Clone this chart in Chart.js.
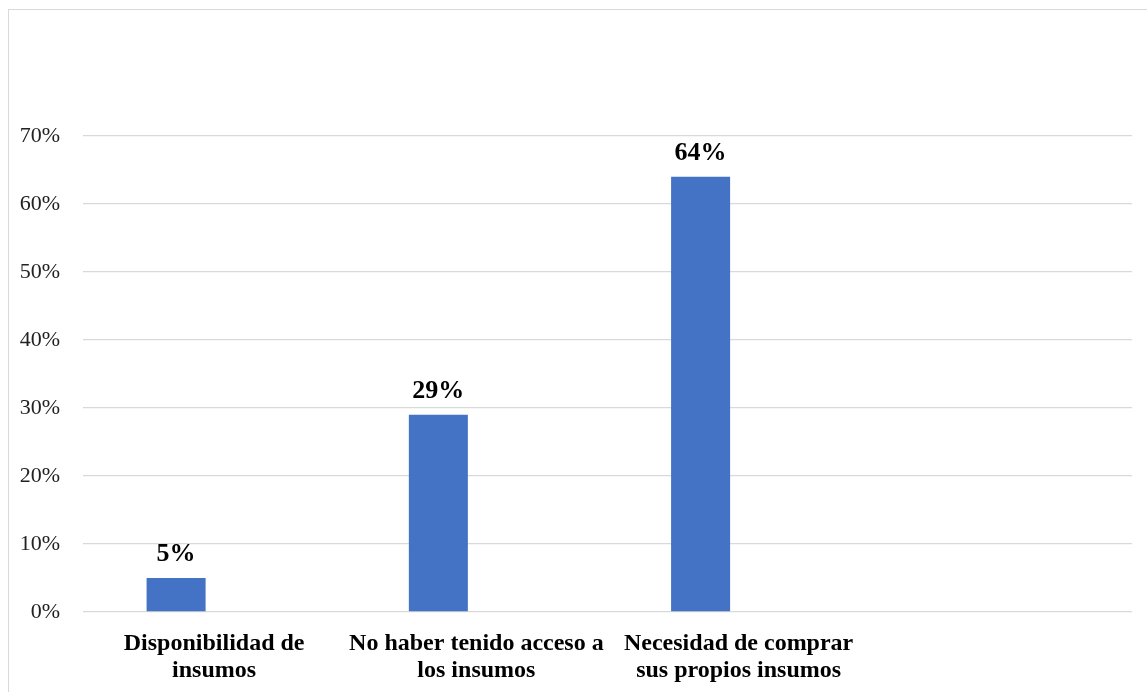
<!DOCTYPE html>
<html lang="es">
<head>
<meta charset="UTF-8">
<title>Insumos</title>
<script src="https://cdn.jsdelivr.net/npm/chart.js"></script>
<style>
  html, body { margin: 0; padding: 0; background: #fff; }
  #wrap { position: relative; width: 1147px; height: 692px; overflow: hidden; }
  #frame { position: absolute; left: 8px; top: 9px; width: 1160px; height: 700px; border: 1px solid #d9d9d9; box-sizing: border-box; }
  canvas { position: absolute; left: 0; top: 0; }
</style>
</head>
<body>
<div id="wrap">
  <div id="frame"></div>
  <canvas id="chart" width="1147" height="692"></canvas>
</div>
<script>
// categories and values
var categories = [
  ['Disponibilidad de', 'insumos'],
  ['No haber tenido acceso a', 'los insumos'],
  ['Necesidad de comprar', 'sus propios insumos'],
  ''
];
var values = [0.05, 0.29, 0.64, null];
var emptySeries = [null, null, null, null];
var yTicks = [0, 0.1, 0.2, 0.3, 0.4, 0.5, 0.6, 0.7];

// draws the percentage over each bar
var barLabels = {
  id: 'barLabels',
  afterDatasetsDraw: function (chart) {
    var ctx = chart.ctx;
    var meta = chart.getDatasetMeta(0);
    ctx.save();
    ctx.font = 'bold 26px "Liberation Serif", "Times New Roman", serif';
    ctx.fillStyle = '#000';
    ctx.textAlign = 'center';
    ctx.textBaseline = 'alphabetic';
    meta.data.forEach(function (bar, i) {
      if (values[i] == null) return;
      ctx.fillText(Math.round(values[i] * 100) + '%', bar.x, bar.y - 17);
    });
    ctx.restore();
  }
};

new Chart(document.getElementById('chart'), {
  type: 'bar',
  data: {
    labels: categories,
    datasets: [
      {
        data: values,
        backgroundColor: '#4472c4',
        categoryPercentage: 0.58,
        barPercentage: 0.776
      },
      {
        data: emptySeries,
        backgroundColor: '#ed7d31',
        categoryPercentage: 0.58,
        barPercentage: 0.776
      }
    ]
  },
  options: {
    responsive: false,
    animation: false,
    layout: { padding: { top: 136, right: 15, left: 0, bottom: 0 } },
    plugins: {
      legend: { display: false },
      tooltip: { enabled: false }
    },
    scales: {
      x: {
        grid: { display: false },
        border: { display: false },
        ticks: {
          color: '#000',
          padding: 10,
          maxRotation: 0,
          autoSkip: false,
          font: { family: '"Liberation Serif", "Times New Roman", serif', size: 24, weight: 'bold', lineHeight: 1.12 }
        },
        afterFit: function (scale) { scale.height = 80; }
      },
      y: {
        min: 0,
        max: 0.7,
        afterBuildTicks: function (scale) {
          scale.ticks = yTicks.map(function (v) { return { value: v }; });
        },
        grid: { color: '#d9d9d9', lineWidth: 1.3, drawTicks: false },
        border: { display: false },
        ticks: {
          color: '#222',
          padding: 23,
          font: { family: '"Liberation Serif", "Times New Roman", serif', size: 22 },
          callback: function (v) { return Math.round(v * 100) + '%'; }
        },
        afterFit: function (scale) { scale.width = 83; }
      }
    }
  },
  plugins: [barLabels]
});
</script>
</body>
</html>
